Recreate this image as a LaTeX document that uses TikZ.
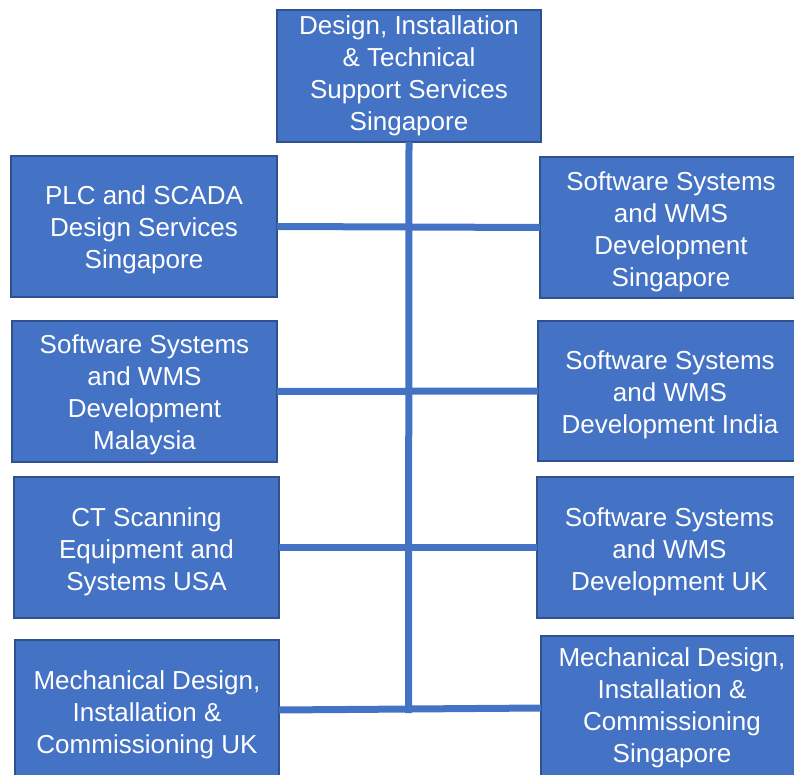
\documentclass[tikz,border=0pt]{standalone}
\usepackage{fontspec}
\setmainfont{Liberation Sans}
\definecolor{boxfill}{HTML}{4472C4}
\definecolor{boxedge}{HTML}{2F528F}
\begin{document}
\begin{tikzpicture}[x=1pt,y=-1pt,
  box/.style={draw=boxedge, fill=boxfill, line width=1.5pt, inner sep=0pt, outer sep=0pt},
  lbl/.style={text=white, align=center, inner sep=0pt, font=\fontsize{26}{32}\selectfont},
  link/.style={draw=boxfill, line width=7pt}]
\useasboundingbox (0,0) rectangle (794,775);
\clip (0,0) rectangle (794,775);
\node[box, minimum width=264pt, minimum height=132pt,
  label={[lbl]center:{Design, Installation\\\& Technical\\Support Services\\Singapore}}] (T) at (409,76) {};
\node[box, minimum width=266pt, minimum height=141pt,
  label={[lbl,yshift=-3pt]center:{PLC and SCADA\\Design Services\\Singapore}}] (L1) at (144,226.5) {};
\node[box, minimum width=262pt, minimum height=141pt,
  label={[lbl,yshift=-4pt]center:{Software Systems\\and WMS\\Development\\Singapore}}] (R1) at (671,227.5) {};
\node[box, minimum width=265pt, minimum height=141pt,
  label={[lbl,yshift=-3pt]center:{Software Systems\\and WMS\\Development\\Malaysia}}] (L2) at (144.5,391.5) {};
\node[box, minimum width=264pt, minimum height=140pt,
  label={[lbl,yshift=-4pt]center:{Software Systems\\and WMS\\Development India}}] (R2) at (670,391) {};
\node[box, minimum width=265pt, minimum height=141pt,
  label={[lbl,yshift=-4pt]center:{CT Scanning\\Equipment and\\Systems USA}}] (L3) at (146.5,547.5) {};
\node[box, minimum width=265pt, minimum height=141pt,
  label={[lbl,yshift=-4pt]center:{Software Systems\\and WMS\\Development UK}}] (R3) at (669.5,547.5) {};
\node[box, minimum width=264pt, minimum height=140pt,
  label={[lbl,yshift=-5pt]center:{Mechanical Design,\\Installation \&\\Commissioning UK}}] (L4) at (147,710) {};
\node[box, minimum width=262pt, minimum height=144pt,
  label={[lbl]center:{Mechanical Design,\\Installation \&\\Commissioning\\Singapore}}] (R4) at (672,708) {};
\coordinate (bot) at (408.5,713);
\draw[link] (L1.east) -- (R1.west);
\draw[link] (L2.east) -- (R2.west);
\draw[link] (L3.east) -- (R3.west);
\draw[link] (L4.east) -- (R4.west);
\draw[link] (T.south) -- (bot);
\end{tikzpicture}
\end{document}
